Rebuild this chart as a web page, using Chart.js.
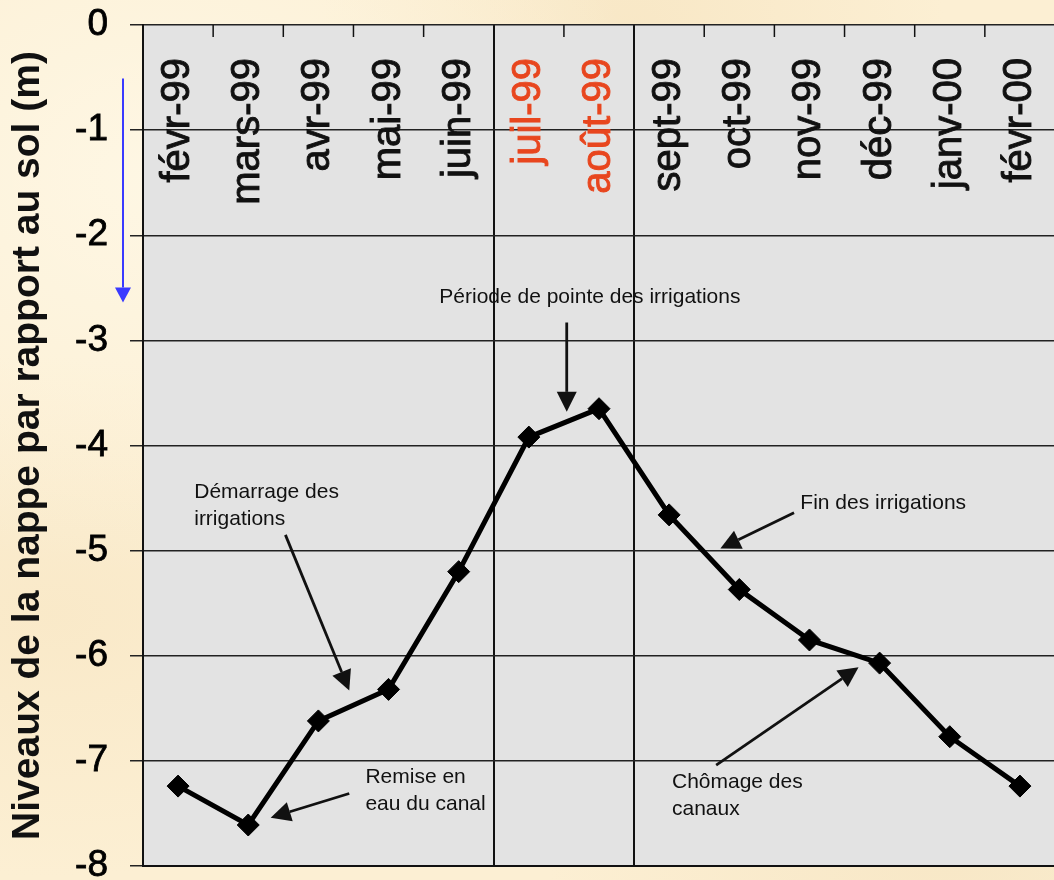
<!DOCTYPE html>
<html>
<head>
<meta charset="utf-8">
<script src="https://cdn.jsdelivr.net/npm/chart.js@4.4.1/dist/chart.umd.min.js"></script>
<style>
  html, body { margin: 0; padding: 0; width: 1054px; height: 880px; overflow: hidden; }
  body {
    background-color: #fcefd3;
    background-image:
      radial-gradient(ellipse at 15% 20%, rgba(255, 250, 235, 0.7), rgba(255, 250, 235, 0) 40%),
      radial-gradient(ellipse at 60% 5%, rgba(242, 220, 178, 0.4), rgba(242, 220, 178, 0) 35%),
      radial-gradient(ellipse at 5% 70%, rgba(246, 226, 188, 0.45), rgba(246, 226, 188, 0) 30%),
      radial-gradient(ellipse at 90% 95%, rgba(242, 222, 182, 0.45), rgba(242, 222, 182, 0) 30%);
  }
  canvas { display: block; }
</style>
</head>
<body>
<canvas id="chart" width="1067" height="880"></canvas>
<script>
const FONT = '"Liberation Sans", Arial, Helvetica, sans-serif';

// months along the axis, and water table depth (m below ground)
const months = ["févr-99", "mars-99", "avr-99", "mai-99", "juin-99", "juil-99", "août-99",
  "sept-99", "oct-99", "nov-99", "déc-99", "janv-00", "févr-00"];
const levels = [-7.24, -7.61, -6.62, -6.32, -5.20, -3.92, -3.65, -4.66, -5.37, -5.85, -6.07, -6.77, -7.24];
const peakMonths = ["juil-99", "août-99"];
const yTitle = "Niveaux de la nappe par rapport au sol (m)";

// annotations, in axis units (x = month index, y = metres)
const notes = [
  { lines: ["Période de pointe des irrigations"], x: 5.87, y: -2.59, align: "center" },
  { lines: ["Démarrage des", "irrigations"], x: 0.23, y: -4.44, align: "left" },
  { lines: ["Fin des irrigations"], x: 8.87, y: -4.55, align: "left" },
  { lines: ["Remise en", "eau du canal"], x: 2.67, y: -7.16, align: "left" },
  { lines: ["Chômage des", "canaux"], x: 7.04, y: -7.20, align: "left" },
];
const arrows = [
  { from: [5.54, -2.83], to: [5.54, -3.68] },
  { from: [1.53, -4.85], to: [2.44, -6.33] },
  { from: [8.78, -4.64], to: [7.73, -4.98] },
  { from: [2.44, -7.31], to: [1.32, -7.54] },
  { from: [7.67, -7.04], to: [9.70, -6.11] },
];
const depthArrow = { from: -0.51, to: -2.64 };

function drawArrow(ctx, x1, y1, x2, y2, color, lw, hl, hw) {
  const ang = Math.atan2(y2 - y1, x2 - x1);
  const bx = x2 - hl * Math.cos(ang), by = y2 - hl * Math.sin(ang);
  ctx.strokeStyle = color;
  ctx.lineWidth = lw;
  ctx.beginPath();
  ctx.moveTo(x1, y1);
  ctx.lineTo(bx, by);
  ctx.stroke();
  ctx.fillStyle = color;
  ctx.beginPath();
  ctx.moveTo(x2, y2);
  ctx.lineTo(bx + hw * Math.sin(ang), by - hw * Math.cos(ang));
  ctx.lineTo(bx - hw * Math.sin(ang), by + hw * Math.cos(ang));
  ctx.closePath();
  ctx.fill();
}

const decor = {
  id: "decor",
  beforeDraw(chart) {
    const { ctx, chartArea: a } = chart;
    ctx.save();
    ctx.fillStyle = "#e3e3e3";
    ctx.fillRect(a.left, a.top, a.right - a.left, a.bottom - a.top);
    ctx.restore();
  },
  afterDraw(chart) {
    const { ctx, chartArea: a } = chart;
    const xs = chart.scales.x, ys = chart.scales.y;
    ctx.save();

    // small tick marks along the top, pointing inward
    ctx.strokeStyle = "#111";
    ctx.lineWidth = 1.5;
    for (let i = 1; i < months.length; i++) {
      if (i === 5 || i === 7) continue;
      const bx = (xs.getPixelForValue(i - 1) + xs.getPixelForValue(i)) / 2;
      ctx.beginPath();
      ctx.moveTo(bx, a.top);
      ctx.lineTo(bx, a.top + 12);
      ctx.stroke();
    }

    // month labels, rotated, inside the plot at the top
    ctx.font = "40px " + FONT;
    ctx.textAlign = "right";
    ctx.textBaseline = "middle";
    ctx.lineWidth = 0.9;
    months.forEach((m, i) => {
      ctx.save();
      ctx.translate(xs.getPixelForValue(i), a.top + 33);
      ctx.rotate(-Math.PI / 2);
      const col = peakMonths.includes(m) ? "#e8461e" : "#111";
      ctx.fillStyle = col;
      ctx.strokeStyle = col;
      ctx.fillText(m, 0, 0);
      ctx.strokeText(m, 0, 0);
      ctx.restore();
    });

    // annotation texts
    ctx.font = "21px " + FONT;
    ctx.fillStyle = "#111";
    ctx.textBaseline = "middle";
    notes.forEach(n => {
      ctx.textAlign = n.align;
      const x = xs.getPixelForValue(n.x);
      const y0 = ys.getPixelForValue(n.y);
      n.lines.forEach((line, k) => ctx.fillText(line, x, y0 + k * 27));
    });

    arrows.forEach(ar => {
      drawArrow(ctx,
        xs.getPixelForValue(ar.from[0]), ys.getPixelForValue(ar.from[1]),
        xs.getPixelForValue(ar.to[0]), ys.getPixelForValue(ar.to[1]),
        "#111", 2.8, 20, 10);
    });

    // blue depth arrow beside the axis
    const bxp = a.left - 20;
    drawArrow(ctx, bxp, ys.getPixelForValue(depthArrow.from), bxp, ys.getPixelForValue(depthArrow.to),
      "#3a3aff", 2, 15, 8);

    ctx.restore();
  }
};

new Chart(document.getElementById("chart"), {
  type: "line",
  data: {
    labels: months,
    datasets: [{
      data: levels,
      borderColor: "#000",
      borderWidth: 5,
      tension: 0,
      pointStyle: "rectRot",
      pointRadius: 11,
      pointBackgroundColor: "#000",
      pointBorderColor: "#000",
      pointBorderWidth: 1,
    }],
  },
  options: {
    responsive: false,
    animation: false,
    layout: { padding: { top: 25, bottom: 14, left: 0, right: 0 } },
    plugins: { legend: { display: false }, tooltip: { enabled: false } },
    scales: {
      x: {
        type: "category",
        offset: true,
        ticks: { display: false },
        grid: {
          offset: true,
          drawTicks: false,
          lineWidth: 2,
          color: c => (c.index === 5 || c.index === 7) ? "#111" : "rgba(0,0,0,0)",
        },
        border: { color: "#111", width: 2 },
        afterFit: s => { s.height = 0; s.paddingLeft = 0; s.paddingRight = 0; },
      },
      y: {
        min: -8,
        max: 0,
        ticks: {
          stepSize: 1,
          color: "#000",
          padding: 22,
          font: { family: FONT, size: 37 },
          textStrokeColor: "#000",
          textStrokeWidth: 0.8,
          callback: v => String(v),
        },
        grid: { color: "#222", lineWidth: 1.5, tickLength: 13 },
        border: { color: "#111", width: 2 },
        title: {
          display: true,
          text: yTitle,
          color: "#111",
          font: { family: FONT, size: 39, weight: "bold" },
          padding: { top: 5, bottom: 0 },
        },
        afterFit: s => { s.width = 143; s.paddingTop = 0; s.paddingBottom = 0; },
      },
    },
  },
  plugins: [decor],
});
</script>
</body>
</html>
